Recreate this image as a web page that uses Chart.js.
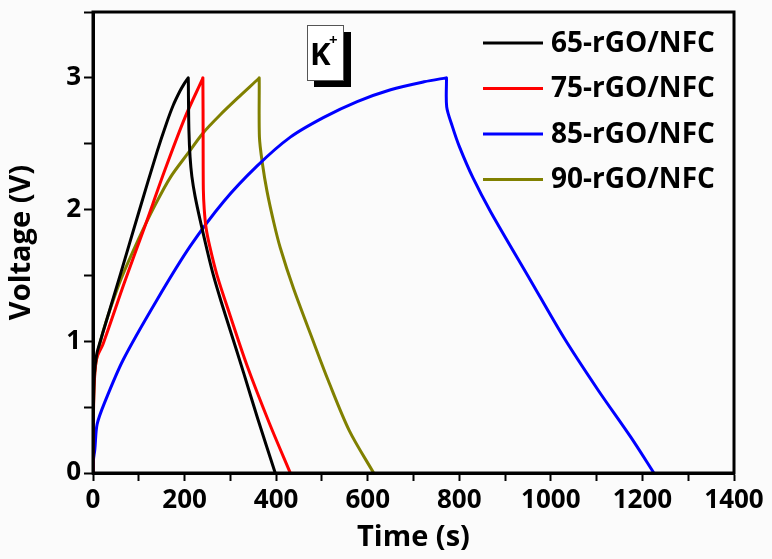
<!DOCTYPE html>
<html>
<head>
<meta charset="utf-8">
<script src="https://cdn.jsdelivr.net/npm/chart.js@4.4.0/dist/chart.umd.min.js"></script>
<style>
  body { margin: 0; background: #fbfbfb; }
  canvas { display: block; }
</style>
</head>
<body>
<canvas id="gcd_graph" width="772" height="559"></canvas>
<script>
// charge/discharge curves, time (s) and voltage (V)
var labels = ["65-rGO/NFC", "75-rGO/NFC", "85-rGO/NFC", "90-rGO/NFC"];
var colors = ["#000000", "#ff0000", "#0000ff", "#808000"];

var t65 = [0, 1, 3, 8, 15, 60, 100, 140, 160, 175, 190, 200, 207, 208, 208.5, 209.5, 212, 216, 223, 234, 250, 263, 280, 300, 329, 360, 398];
var v65 = [0, 0.5, 0.75, 0.9, 0.99, 1.51, 1.98, 2.44, 2.65, 2.79, 2.9, 2.96, 2.995, 3.0, 2.85, 2.6, 2.4, 2.25, 2.1, 1.92, 1.68, 1.5, 1.3, 1.08, 0.76, 0.41, 0];

var t75 = [0, 1, 3, 8, 22, 69, 113, 157, 201, 239, 240, 240.5, 241, 243, 247, 255, 271, 300, 336, 385, 431];
var v75 = [0, 0.45, 0.7, 0.87, 0.98, 1.45, 1.87, 2.3, 2.7, 2.99, 3.0, 2.55, 2.15, 2.0, 1.86, 1.72, 1.5, 1.19, 0.82, 0.38, 0];

var t85 = [0, 1, 4, 9, 26, 66, 139, 212, 285, 358, 431, 504, 577, 650, 723, 771, 772, 772.5, 785, 800, 830, 869, 956, 1028, 1103, 1175, 1225];
var v85 = [0, 0.1, 0.18, 0.37, 0.54, 0.86, 1.31, 1.72, 2.06, 2.33, 2.55, 2.7, 2.82, 2.91, 2.97, 3.0, 3.0, 2.78, 2.63, 2.48, 2.24, 1.98, 1.46, 1.03, 0.63, 0.27, 0];

var t90 = [0, 1, 3, 7, 20, 40, 62, 100, 135, 170, 208, 240, 278, 320, 362, 363, 363.5, 370, 380, 395, 409, 438, 481, 514, 560, 613];
var v90 = [0, 0.5, 0.72, 0.85, 1.05, 1.27, 1.48, 1.78, 2.03, 2.25, 2.43, 2.58, 2.72, 2.86, 2.995, 3.0, 2.55, 2.35, 2.14, 1.9, 1.71, 1.4, 1.0, 0.7, 0.32, 0];

var xTicks = [0, 200, 400, 600, 800, 1000, 1200, 1400];
var yTicks = [0, 1, 2, 3];

var fontFamily = "'Open Sans', sans-serif";

function toPoints(t, v) {
  var pts = [];
  for (var i = 0; i < t.length; i++) {
    pts.push({ x: t[i], y: v[i] });
  }
  return pts;
}

// cornice, legenda e riquadro K+
var extrasPlugin = {
  id: "extras",
  afterDraw: function(chart) {
    var ctx = chart.ctx;
    var a = chart.chartArea;

    ctx.save();
    ctx.strokeStyle = "#000";
    ctx.lineWidth = 3;
    ctx.strokeRect(a.left, a.top, a.right - a.left, a.bottom - a.top);

    // legenda
    ctx.font = "bold 28px " + fontFamily;
    ctx.textBaseline = "middle";
    ctx.fillStyle = "#000";
    for (var i = 0; i < chart.data.datasets.length; i++) {
      var ds = chart.data.datasets[i];
      var y = a.top + 31 + i * 45.5;
      ctx.strokeStyle = ds.borderColor;
      ctx.lineWidth = 3;
      ctx.beginPath();
      ctx.moveTo(a.right - 251, y);
      ctx.lineTo(a.right - 191, y);
      ctx.stroke();
      ctx.fillText(ds.label, a.right - 183, y + 1);
    }

    // K+
    ctx.fillStyle = "#000";
    ctx.fillRect(314, 32, 37, 55);
    ctx.fillStyle = "#fff";
    ctx.fillRect(307, 25, 36, 55);
    ctx.strokeStyle = "#555";
    ctx.lineWidth = 1;
    ctx.strokeRect(307.5, 25.5, 36, 55);
    ctx.fillStyle = "#000";
    ctx.textBaseline = "alphabetic";
    ctx.font = "bold 31px " + fontFamily;
    ctx.fillText("K", 310, 65);
    ctx.font = "bold 15px " + fontFamily;
    ctx.fillText("+", 329, 45);
    ctx.restore();
  }
};

function printGraph() {
  var ctx = document.getElementById("gcd_graph").getContext("2d");

  var series = [[t65, v65], [t75, v75], [t85, v85], [t90, v90]];
  var datasets = [];
  for (var i = 0; i < series.length; i++) {
    datasets.push({
      label: labels[i],
      data: toPoints(series[i][0], series[i][1]),
      borderColor: colors[i],
      backgroundColor: colors[i],
      borderWidth: 3,
      showLine: true,
      pointRadius: 0,
      tension: 0.3
    });
  }

  var graph = new Chart(ctx, {
    type: "scatter",
    data: { datasets: datasets },
    plugins: [extrasPlugin],
    options: {
      responsive: false,
      animation: false,
      layout: { padding: { top: 12, right: 38, left: 0, bottom: 0 } },
      plugins: {
        legend: { display: false },
        tooltip: { enabled: false }
      },
      scales: {
        x: {
          type: "linear",
          min: 0,
          max: 1400,
          afterFit: function(scale) { scale.height = 86; },
          border: { color: "#000", width: 3 },
          grid: { drawOnChartArea: false, tickLength: 8, tickColor: "#000", tickWidth: 2 },
          ticks: {
            stepSize: 100,
            color: "#000",
            padding: 4,
            maxRotation: 0,
            autoSkip: false,
            font: { family: fontFamily, size: 26, weight: "bold" },
            callback: function(value) {
              return xTicks.indexOf(value) >= 0 ? value : "";
            }
          },
          title: {
            display: true,
            text: "Time (s)",
            color: "#000",
            padding: { top: 0 },
            font: { family: fontFamily, size: 29, weight: "bold" }
          }
        },
        y: {
          type: "linear",
          min: 0,
          max: 3.5,
          afterFit: function(scale) {
            scale.width = 93;
            scale.paddingTop = 0;
          },
          border: { color: "#000", width: 3 },
          grid: { drawOnChartArea: false, tickLength: 9, tickColor: "#000", tickWidth: 2 },
          ticks: {
            stepSize: 0.5,
            color: "#000",
            padding: 3,
            autoSkip: false,
            font: { family: fontFamily, size: 26, weight: "bold" },
            callback: function(value) {
              return yTicks.indexOf(value) >= 0 ? value : "";
            }
          },
          title: {
            display: true,
            text: "Voltage (V)",
            color: "#000",
            padding: { bottom: 4 },
            font: { family: fontFamily, size: 29, weight: "bold" }
          }
        }
      }
    }
  });
}

printGraph();
</script>
</body>
</html>
